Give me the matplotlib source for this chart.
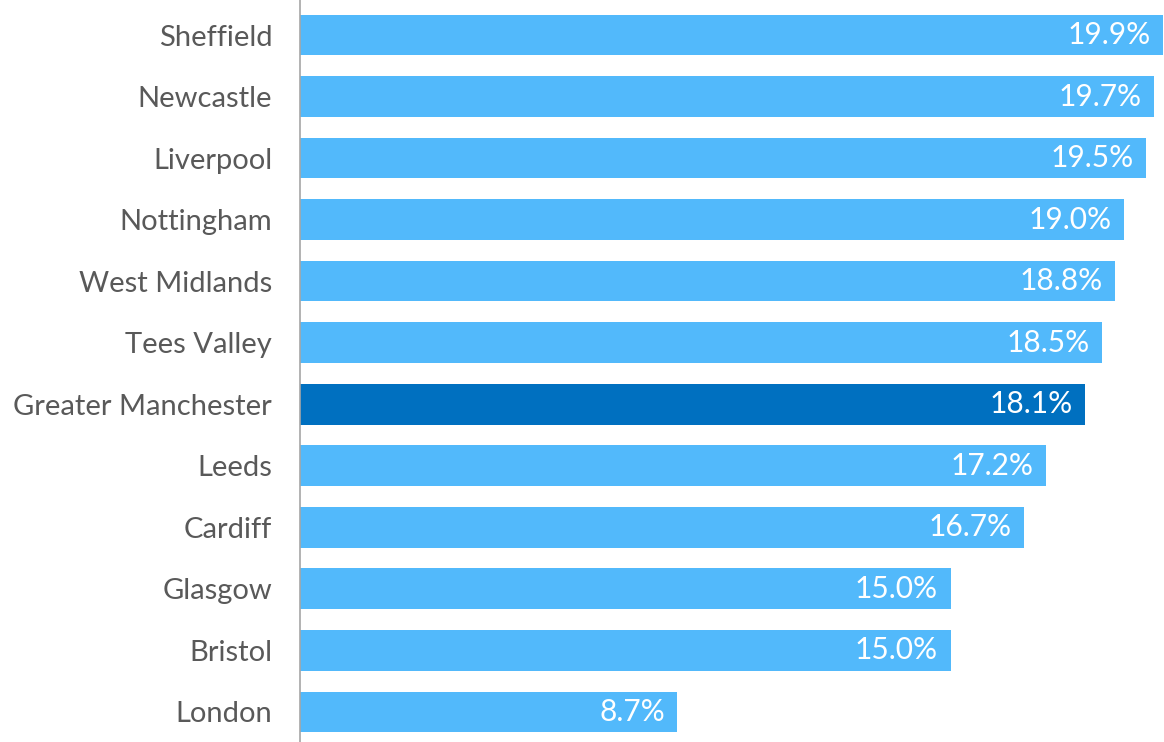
import matplotlib
matplotlib.use('Agg')
import matplotlib.pyplot as plt
import numpy as np

plt.rcParams['font.family'] = ['Lato', 'DejaVu Sans']

cities = ['Sheffield', 'Newcastle', 'Liverpool', 'Nottingham', 'West Midlands',
          'Tees Valley', 'Greater Manchester', 'Leeds', 'Cardiff', 'Glasgow',
          'Bristol', 'London']
values = [19.9, 19.7, 19.5, 19.0, 18.8, 18.5, 18.1, 17.2, 16.7, 15.0, 15.0, 8.7]
highlight = 'Greater Manchester'

light = '#52b9fb'
dark = '#0070c0'

fig = plt.figure(figsize=(11.64, 7.42), dpi=100)
ax = fig.add_axes([300 / 1164, 0, 1 - 300 / 1164, 1])

y = np.arange(len(cities))
colors = [dark if c == highlight else light for c in cities]
ax.barh(y, values, height=0.66, color=colors)

# value labels inside the bar ends
for yi, v in zip(y, values):
    ax.annotate(f'{v:.1f}%', (v, yi), xytext=(-9, 0), textcoords='offset points',
                ha='right', va='center', color='white', fontsize=21.5)

ax.set_yticks(y)
ax.set_yticklabels(cities, fontsize=21, color='#595959')
ax.tick_params(axis='y', length=0, pad=20)
ax.set_xticks([])
ax.set_xlim(0, 19.92)
ax.set_ylim(11.49, -0.57)

for s in ['top', 'right', 'bottom']:
    ax.spines[s].set_visible(False)
ax.spines['left'].set_color('#a6a6a6')
ax.spines['left'].set_linewidth(1.2)

fig.savefig('out.png', dpi=100)
